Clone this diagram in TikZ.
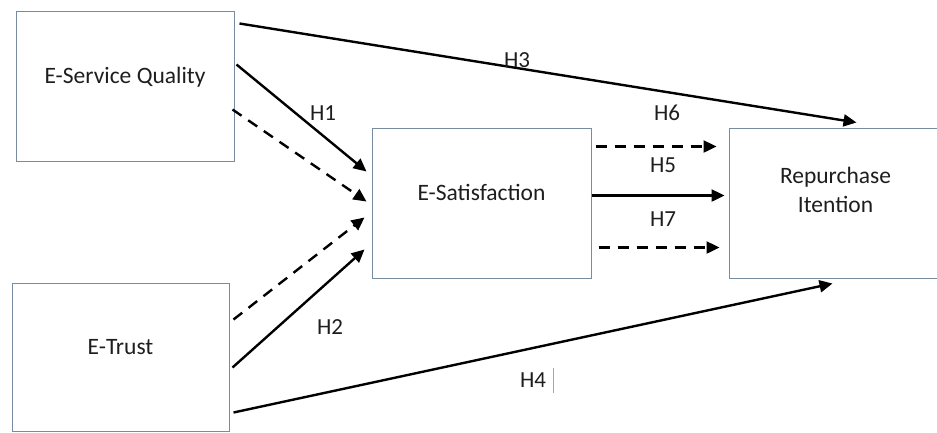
\documentclass[tikz,border=0pt]{standalone}
\usepackage{fontspec}
\setmainfont{Carlito}
\usetikzlibrary{arrows.meta}
\definecolor{boxline}{RGB}{120,140,160}
\definecolor{inktext}{RGB}{30,30,30}

\begin{document}
\begin{tikzpicture}[x=1pt, y=-1pt,
        construct/.style={draw=boxline, line width=1pt, fill=white},
        every label/.style={text=inktext, font=\fontsize{23.5}{29}\selectfont, align=center},
        hyp/.style={line width=2.4pt, -{Triangle[length=13pt,width=12pt]}},
        hypdash/.style={hyp, dash pattern=on 11pt off 8pt},
        tag/.style={text=inktext, font=\fontsize{23}{26}\selectfont, inner sep=0pt}]
        \useasboundingbox (0,0) rectangle (937,432);
        \node[construct, minimum width=218pt, minimum height=150pt,
              label={[yshift=9pt]center:E-Service Quality}] (esq) at (125,86) {};
        \node[construct, minimum width=217pt, minimum height=148pt,
              label={[yshift=10pt]center:E-Trust}] (trust) at (120.5,357) {};
        \node[construct, minimum width=219pt, minimum height=150pt,
              label={[yshift=11pt]center:E-Satisfaction}] (sat) at (481.5,203) {};
        \node[construct, minimum width=213pt, minimum height=150pt,
              label={[yshift=13pt]center:Repurchase\\Itention}] (rep) at (835.5,203) {};

        \draw[hyp] ([shift={(5,13)}]esq.north east) -- ([shift={(128,-5)}]rep.north west);
        \draw[hyp] ([shift={(2,54)}]esq.north east) -- ([shift={(-5,44)}]sat.north west);
        \draw[hypdash] ([shift={(-2,99)}]esq.north east) -- ([shift={(-5,74)}]sat.north west);
        \draw[hypdash] ([shift={(4,37)}]trust.north east) -- ([shift={(-7,90)}]sat.north west);
        \draw[hyp] ([shift={(3,85)}]trust.north east) -- ([shift={(-7,122)}]sat.north west);
        \draw[hyp] ([shift={(4,130)}]trust.north east) -- ([shift={(104,5)}]rep.south west);
        \draw[hypdash] ([shift={(4,19)}]sat.north east) -- ([shift={(-12,19)}]rep.north west);
        \draw[hyp] ([shift={(0,68)}]sat.north east) -- ([shift={(-4,68)}]rep.north west);
        \draw[hypdash] ([shift={(7,120)}]sat.north east) -- ([shift={(-9,120)}]rep.north west);

        \node[tag] (h1) at (323,113) {H1};
        \node[tag] (h2) at (330,327) {H2};
        \node[tag] (h3) at (517,60) {H3};
        \node[tag] (h4) at (533,380) {H4};
        \node[tag] (h5) at (663,165) {H5};
        \node[tag] (h6) at (667,113) {H6};
        \node[tag] (h7) at (663,219) {H7};
        \draw[black!35, line width=0.6pt] ([shift={(7,-4)}]h4.north east) -- ([shift={(7,5)}]h4.south east);
\end{tikzpicture}
\end{document}
